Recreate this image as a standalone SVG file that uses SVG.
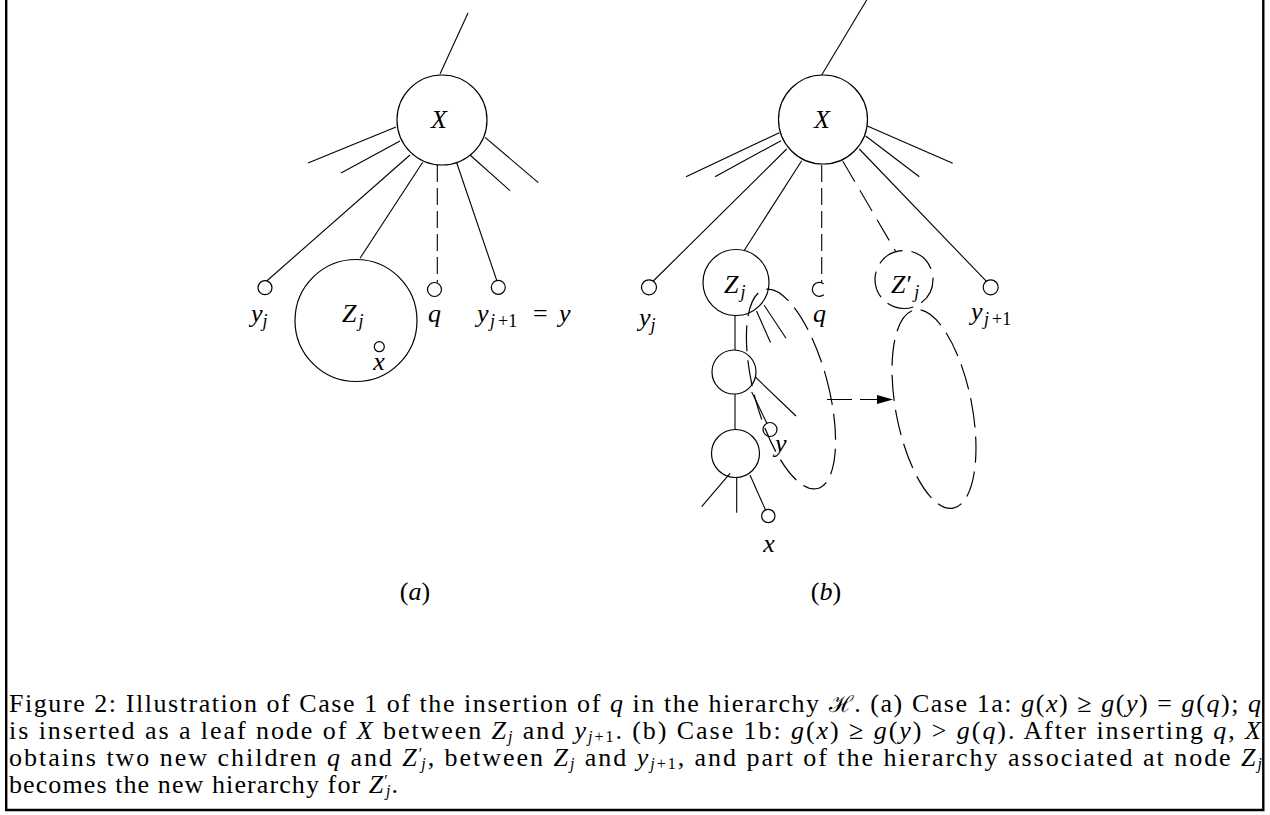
<svg xmlns="http://www.w3.org/2000/svg" width="1270" height="815" viewBox="0 0 1270 815">
<style>
.ln{stroke:#000;stroke-width:1.1;fill:none}
.c{stroke:#000;stroke-width:1.2;fill:none}
.d1{stroke-dasharray:17 6}
.d2{stroke-dasharray:24 10}
.d3{stroke-dasharray:27 9}
.d4{stroke-dasharray:26 9}
.m{font-family:"Liberation Serif","DejaVu Serif",serif;font-style:italic;font-size:26px;fill:#000}
.r{font-style:normal}
.s{font-size:18px}
.cap{font-family:"Liberation Serif","DejaVu Serif",serif;font-size:26px;fill:#000}
.cs{font-size:16px}
.i{font-style:italic}
</style>
<defs>
<marker id="ah" markerUnits="userSpaceOnUse" markerWidth="17" markerHeight="10" refX="0" refY="4.5" orient="auto">
<path d="M0,0 L16,4.5 L0,9 z" fill="#000"/>
</marker>
</defs>
<rect width="1270" height="815" fill="#fff"/>
<path d="M6.2,0 V810 H1263.3 V0" fill="none" stroke="#000" stroke-width="2.4"/>

<g id="connectors">
<line class="ln" x1="440" y1="74" x2="468" y2="13"/>
<line class="ln" x1="396" y1="127" x2="308" y2="163"/>
<line class="ln" x1="400" y1="141" x2="341" y2="173"/>
<line class="ln" x1="410" y1="155" x2="266.7" y2="281"/>
<line class="ln" x1="422.7" y1="162.3" x2="360" y2="258.3"/>
<line class="ln d1" x1="437.3" y1="165" x2="437.3" y2="282.5"/>
<line class="ln" x1="456.7" y1="162.7" x2="496.7" y2="280.3"/>
<line class="ln" x1="470" y1="155" x2="510" y2="190.7"/>
<line class="ln" x1="485" y1="137.3" x2="538.3" y2="182.7"/>
<line class="ln" x1="821.7" y1="75" x2="866.7" y2="0"/>
<line class="ln" x1="779.3" y1="132.7" x2="686" y2="176.7"/>
<line class="ln" x1="781" y1="140.7" x2="715" y2="176.7"/>
<line class="ln" x1="786.7" y1="149" x2="653.3" y2="281"/>
<line class="ln" x1="801.7" y1="160.7" x2="744" y2="250.7"/>
<line class="ln d1" x1="821.7" y1="165" x2="821.7" y2="283"/>
<line class="ln d2" x1="842.7" y1="161" x2="896" y2="252"/>
<line class="ln" x1="859.3" y1="149" x2="986.7" y2="281.7"/>
<line class="ln" x1="865.7" y1="136" x2="919.3" y2="176.7"/>
<line class="ln" x1="867.3" y1="126" x2="952.7" y2="163.3"/>
<line class="ln" x1="735" y1="315" x2="735" y2="350"/>
<line class="ln" x1="735" y1="394" x2="735" y2="430"/>
<line class="ln" x1="764" y1="305" x2="786" y2="338.3"/>
<line class="ln" x1="756.5" y1="311" x2="770.5" y2="342.5"/>
<line class="ln" x1="755" y1="376.7" x2="796" y2="416"/>
<line class="ln" x1="751.7" y1="392" x2="767" y2="423.5"/>
<line class="ln" x1="730" y1="473.3" x2="701.7" y2="506.7"/>
<line class="ln" x1="736.7" y1="477.5" x2="736.7" y2="512.7"/>
<line class="ln" x1="750" y1="475" x2="765.5" y2="510"/>
<line class="ln" x1="827" y1="399.5" x2="877" y2="399.5" stroke-dasharray="25 8" marker-end="url(#ah)"/>
</g>

<g id="a-X"><circle class="c" cx="442" cy="120" r="45"/><text class="m" x="439" y="128" text-anchor="middle">X</text></g>
<g id="a-yj"><circle class="c" cx="265" cy="287.7" r="7"/><text class="m" x="251" y="322">y<tspan class="s" dy="5">j</tspan></text></g>
<g id="a-Zj"><circle class="c" cx="356" cy="320.5" r="61"/><text class="m" x="342" y="322">Z<tspan class="s" dx="2" dy="5">j</tspan></text></g>
<g id="a-x"><circle class="c" cx="379.3" cy="346.7" r="5"/><text class="m" x="379" y="370" text-anchor="middle">x</text></g>
<g id="a-q"><circle class="c" cx="434.5" cy="289.5" r="7"/><text class="m" x="428" y="322">q</text></g>
<g id="a-yj1"><circle class="c" cx="498.3" cy="287.3" r="7"/><text class="m" x="477" y="322">y<tspan class="s" x="490" dy="5">j</tspan><tspan class="s r" x="498">+1</tspan><tspan class="r" x="533" dy="-5">=</tspan><tspan x="559">y</tspan></text></g>
<text class="m r" x="415" y="600" text-anchor="middle">(<tspan class="i">a</tspan>)</text>

<g id="b-X"><circle class="c" cx="823" cy="119.5" r="44.5"/><text class="m" x="822" y="128" text-anchor="middle">X</text></g>
<g id="b-yj"><circle class="c" cx="649" cy="287.3" r="7.5"/><text class="m" x="639" y="326">y<tspan class="s" dy="5">j</tspan></text></g>
<g id="b-Zj"><circle class="c" cx="736" cy="282.5" r="33"/><text class="m" x="724" y="293">Z<tspan class="s" dx="2" dy="5">j</tspan></text></g>
<g id="b-q"><path class="c" d="M823.8,283.9 A7,7 0 1,0 823.8,294.7"/><text class="m" x="813" y="322">q</text></g>
<g id="b-Zpj"><circle class="c d3" cx="904" cy="279.5" r="29"/><text class="m" x="891" y="293">Z<tspan class="r" dx="1">′</tspan><tspan class="s" dx="2" dy="5">j</tspan></text></g>
<g id="b-yj1"><circle class="c" cx="990.7" cy="287.3" r="7.5"/><text class="m" x="971" y="320">y<tspan class="s" x="984" dy="5">j</tspan><tspan class="s r" x="992">+1</tspan></text></g>
<g id="b-mid"><circle class="c" cx="734" cy="372" r="22"/></g>
<g id="b-bot"><circle class="c" cx="735.5" cy="453.5" r="24"/></g>
<g id="b-y"><circle class="c" cx="770" cy="429.5" r="7"/><text class="m" x="775" y="452">y</text></g>
<g id="b-x"><circle class="c" cx="768.3" cy="516" r="6.7"/><text class="m" x="769" y="552" text-anchor="middle">x</text></g>
<g id="b-part"><ellipse class="c d4" cx="791" cy="389" rx="37" ry="103" transform="rotate(-15 791 389)"/></g>
<g id="b-newpart"><ellipse class="c d4" cx="934" cy="409" rx="38" ry="101" transform="rotate(-11 934 409)"/></g>
<text class="m r" x="826" y="600" text-anchor="middle">(<tspan class="i">b</tspan>)</text>

<g id="caption" class="cap">
<text x="9" y="712" textLength="1252" lengthAdjust="spacing">Figure 2: Illustration of Case 1 of the insertion of <tspan class="i">q</tspan> in the hierarchy <tspan font-family="DejaVu Serif" font-size="23">ℋ</tspan>. (a) Case 1a: <tspan class="i">g</tspan>(<tspan class="i">x</tspan>) ≥ <tspan class="i">g</tspan>(<tspan class="i">y</tspan>) = <tspan class="i">g</tspan>(<tspan class="i">q</tspan>); <tspan class="i">q</tspan></text>
<text x="9" y="739" textLength="1252" lengthAdjust="spacing">is inserted as a leaf node of <tspan class="i">X</tspan> between <tspan class="i">Z</tspan><tspan class="i cs" dy="3">j</tspan><tspan dy="-3"> and </tspan><tspan class="i">y</tspan><tspan class="cs" dy="3"><tspan class="i">j</tspan>+1</tspan><tspan dy="-3">. (b) Case 1b: </tspan><tspan class="i">g</tspan>(<tspan class="i">x</tspan>) ≥ <tspan class="i">g</tspan>(<tspan class="i">y</tspan>) &gt; <tspan class="i">g</tspan>(<tspan class="i">q</tspan>). After inserting <tspan class="i">q</tspan>, <tspan class="i">X</tspan></text>
<text x="9" y="766" textLength="1253" lengthAdjust="spacing">obtains two new children <tspan class="i">q</tspan> and <tspan class="i">Z</tspan><tspan class="cs" dy="-7">′</tspan><tspan class="i cs" dx="-3" dy="10">j</tspan><tspan dy="-3">, between </tspan><tspan class="i">Z</tspan><tspan class="i cs" dy="3">j</tspan><tspan dy="-3"> and </tspan><tspan class="i">y</tspan><tspan class="cs" dy="3"><tspan class="i">j</tspan>+1</tspan><tspan dy="-3">, and part of the hierarchy associated at node </tspan><tspan class="i">Z</tspan><tspan class="i cs" dy="3">j</tspan></text>
<text x="9" y="793" textLength="389" lengthAdjust="spacing">becomes the new hierarchy for <tspan class="i">Z</tspan><tspan class="cs" dy="-7">′</tspan><tspan class="i cs" dx="-3" dy="10">j</tspan><tspan dy="-3">.</tspan></text>
</g>
</svg>
